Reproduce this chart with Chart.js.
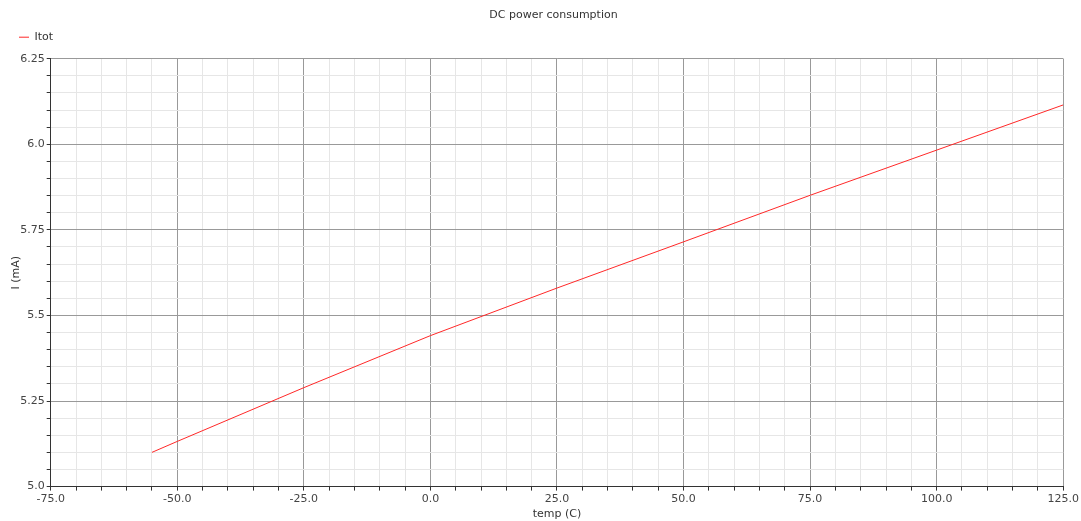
<!DOCTYPE html>
<html>
<head>
<meta charset="utf-8">
<title>DC power consumption</title>
<script src="https://cdn.jsdelivr.net/npm/chart.js@4"></script>
<style>
    body { margin: 0; background: #fff; }
    #wrap { width: 1081px; height: 521px; }
</style>
</head>
<body>
<div id="wrap"><canvas id="chartItot"></canvas></div>
<script>
// temperature sweep (C) and total current (mA)
let temps = [-55, -50, -25, 0, 25, 50, 75, 100, 125];
let itot = [5.100, 5.132, 5.289, 5.441, 5.580, 5.715, 5.851, 5.983, 6.115];

const xMin = -75, xMax = 125, xMajor = 25, xMinor = 5;
const yMin = 5.0, yMax = 6.25, yMajor = 0.25, yMinor = 0.05;

function isMajor(v, step) {
    let r = v / step;
    return Math.abs(r - Math.round(r)) < 1e-6;
}

function fmt(v) {
    let s = String(Math.round(v * 100) / 100);
    if (s.indexOf('.') < 0) s += '.0';
    return s;
}

const font = { family: 'DejaVu Sans', size: 11 };

// centre the title over the plot area and leave some room below the legend
const layoutTweaks = {
    id: 'layoutTweaks',
    beforeInit(chart) {
        const legend = chart.legend;
        if (legend) {
            const origFit = legend.fit;
            legend.fit = function() {
                origFit.call(this);
                this.height += 6;
            };
        }
    },
    afterLayout(chart) {
        const t = chart.titleBlock;
        if (t) {
            t.left = chart.chartArea.left - 7;
            t.right = chart.chartArea.right;
        }
    }
};

const canvas = document.getElementById('chartItot');
let lineItot = new Chart(canvas, {
    type: 'line',
    data: {
        datasets: [{
            label: 'Itot',
            data: temps.map((t, i) => ({ x: t, y: itot[i] })),
            borderColor: 'rgb(255, 40, 40)',
            backgroundColor: 'rgb(255, 40, 40)',
            borderWidth: 1,
            pointRadius: 0,
            tension: 0
        }]
    },
    options: {
        responsive: true,
        maintainAspectRatio: false,
        animation: false,
        layout: { padding: { left: 3, right: 17, top: 0, bottom: 0 } },
        plugins: {
            title: {
                display: true,
                text: 'DC power consumption',
                color: '#333',
                font: { family: 'DejaVu Sans', size: 11, weight: 'normal' },
                padding: { top: 9, bottom: -6.5 }
            },
            legend: {
                align: 'start',
                labels: {
                    usePointStyle: true,
                    pointStyle: 'line',
                    pointStyleWidth: 10,
                    boxWidth: 10,
                    color: '#333',
                    font: font,
                    padding: 16
                }
            },
            tooltip: { enabled: false }
        },
        scales: {
            x: {
                type: 'linear',
                min: xMin,
                max: xMax,
                title: { display: true, text: 'temp (C)', color: '#333', font: font, padding: 0 },
                border: { color: '#333' },
                grid: {
                    color: ctx => isMajor(ctx.tick.value, xMajor) ? '#999' : '#e6e6e6',
                    tickColor: '#333',
                    tickLength: 4
                },
                ticks: {
                    stepSize: xMinor,
                    maxTicksLimit: 1000,
                    autoSkip: false,
                    maxRotation: 0,
                    color: '#444',
                    font: font,
                    padding: 2,
                    callback: v => isMajor(v, xMajor) ? Number(v).toFixed(1) : ''
                }
            },
            y: {
                type: 'linear',
                min: yMin,
                max: yMax,
                title: { display: true, text: 'I (mA)', color: '#333', font: font, padding: { top: 7, bottom: -5 } },
                border: { color: '#333' },
                grid: {
                    color: ctx => isMajor(ctx.tick.value, yMajor) ? '#999' : '#e6e6e6',
                    tickColor: '#333',
                    tickLength: 4
                },
                ticks: {
                    stepSize: yMinor,
                    maxTicksLimit: 1000,
                    autoSkip: false,
                    color: '#444',
                    font: font,
                    padding: 2,
                    callback: v => isMajor(v, yMajor) ? fmt(v) : ''
                }
            }
        }
    },
    plugins: [layoutTweaks]
});
</script>
</body>
</html>
